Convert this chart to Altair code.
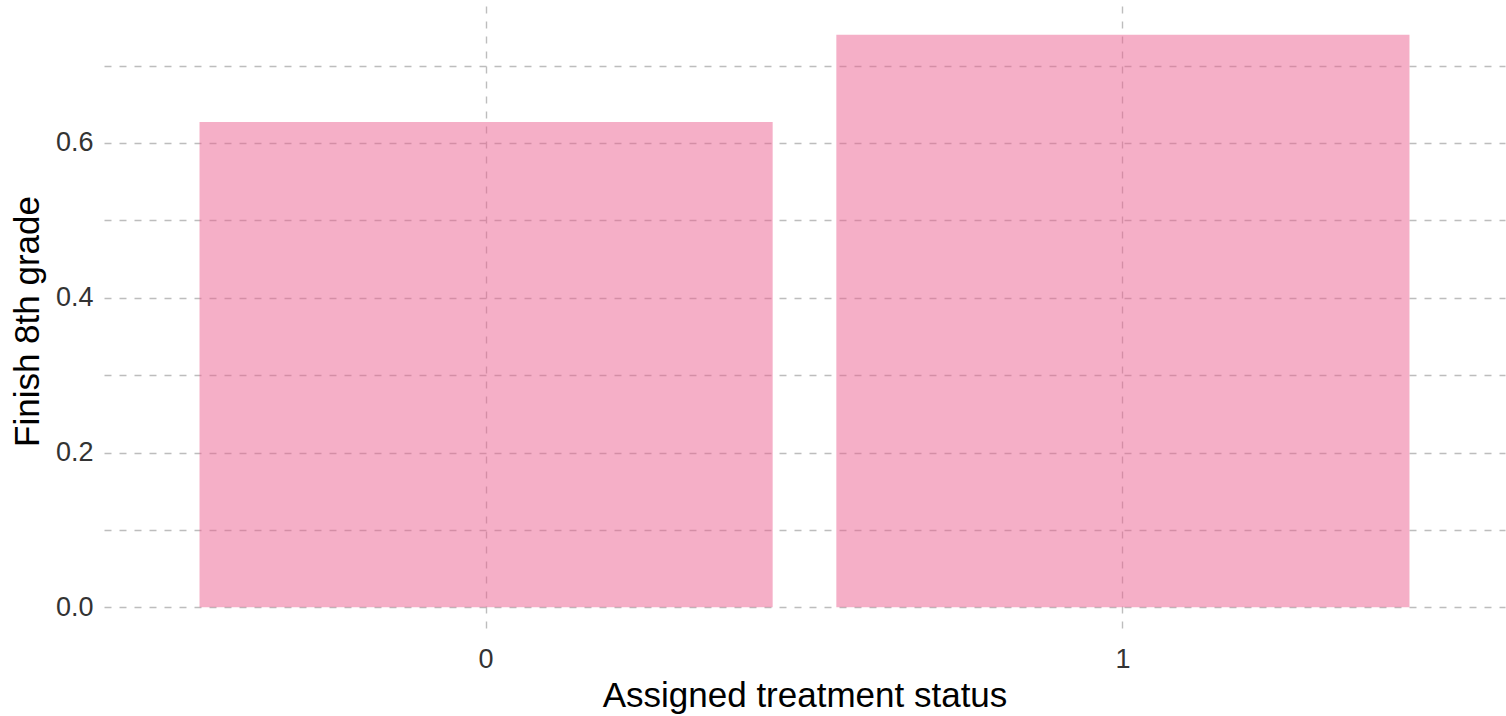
import altair as alt
import pandas as pd

categories = ["0", "1"]
values = [0.627, 0.740]

df = pd.DataFrame({"status": categories, "finish": values, "base": [0.0, 0.0]})

grid_vals = [0.0, 0.1, 0.2, 0.3, 0.4, 0.5, 0.6, 0.7]

chart = alt.Chart(df).mark_bar(color="#EC6090", opacity=0.5).encode(
    x=alt.X(
        "status:N",
        title="Assigned treatment status",
        scale=alt.Scale(paddingInner=0.1, paddingOuter=0.15),
        axis=alt.Axis(
            labelAngle=0,
            grid=True,
            gridDash=[7, 8],
            gridColor="#BDBDBD",
            gridWidth=1.4,
            bandPosition=0.5,
            ticks=False,
            domain=False,
            labelFont="Liberation Sans",
            labelFontSize=27,
            labelColor="#333333",
            labelPadding=10,
            titleFont="Liberation Sans",
            titleFontSize=35,
            titleFontWeight="normal",
            titleColor="#000000",
            titlePadding=6,
        ),
    ),
    y=alt.Y(
        "finish:Q",
        title="Finish 8th grade",
        scale=alt.Scale(domain=[-0.037, 0.777], nice=False, zero=False),
        axis=alt.Axis(
            values=grid_vals,
            labelExpr="round(datum.value*10) % 2 == 0 ? format(datum.value, '.1f') : ''",
            grid=True,
            gridDash=[7, 8],
            gridColor="#BDBDBD",
            gridWidth=1.4,
            ticks=False,
            domain=False,
            labelFont="Liberation Sans",
            labelFontSize=27,
            labelColor="#333333",
            labelPadding=11,
            titleFont="Liberation Sans",
            titleFontSize=35,
            titleFontWeight="normal",
            titleColor="#000000",
            titlePadding=10,
        ),
    ),
    y2="base:Q",
).properties(
    width=1401,
    height=630,
    autosize=alt.AutoSizeParams(type="none"),
    padding={"left": 104, "top": 6, "right": 1, "bottom": 80},
).configure_view(stroke=None)

chart.save("out.html", embed_options={"renderer": "svg", "actions": False})
